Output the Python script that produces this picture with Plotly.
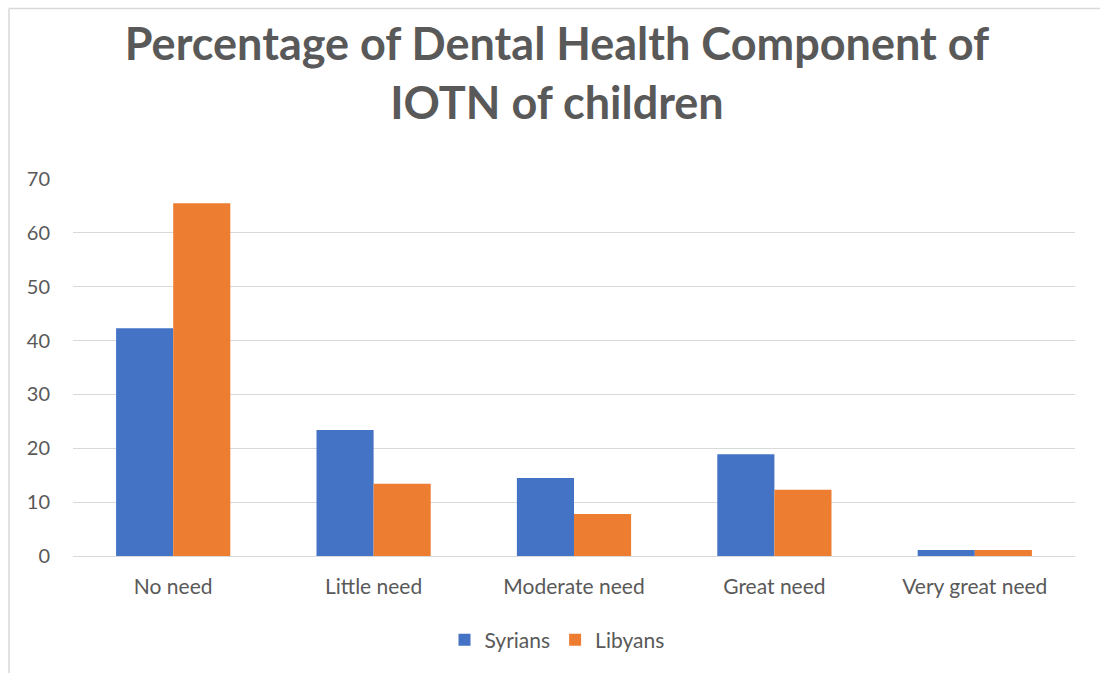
import plotly.graph_objects as go

categories = ["No need", "Little need", "Moderate need", "Great need", "Very great need"]
syrians = [42.3, 23.4, 14.5, 18.9, 1.1]
libyans = [65.5, 13.4, 7.8, 12.3, 1.1]
y_ticks = [0, 10, 20, 30, 40, 50, 60, 70]

FONT = "Lato"
GREY = "#595959"

fig = go.Figure()
fig.add_trace(go.Bar(name="Syrians", x=categories, y=syrians, marker_color="#4472C4",
                     marker_line_width=0))
fig.add_trace(go.Bar(name="Libyans", x=categories, y=libyans, marker_color="#ED7D31",
                     marker_line_width=0))

W, H = 1100, 673
L, R, T, B = 73, 1075, 179, 556

def px_to_paper_x(px):
    return (px - L) / (R - L)

def px_to_paper_y(py):
    return (B - py) / (B - T)

fig.update_layout(
    width=W, height=H,
    margin=dict(l=L, r=W - R, t=T, b=H - B),
    paper_bgcolor="white", plot_bgcolor="white",
    barmode="group", bargap=0.43, bargroupgap=0,
    font=dict(family=FONT, color=GREY, size=20),
    title=dict(
        text="<b>Percentage of Dental Health Component of<br>IOTN of children</b>",
        x=px_to_paper_x(557), xanchor="center", xref="paper",
        y=1 - 60 / H, yanchor="middle", yref="container",
        font=dict(family=FONT, size=45, color=GREY),
    ),
    xaxis=dict(showgrid=False, showline=False, ticks="", tickfont=dict(size=21, color=GREY),
               ticklabelstandoff=16),
    yaxis=dict(range=[0, 70], tickvals=y_ticks, showgrid=True, gridcolor="#d9d9d9",
               gridwidth=1.3, zeroline=True, zerolinecolor="#d9d9d9", zerolinewidth=1.3,
               ticks="", tickfont=dict(size=20, color=GREY), ticklabelstandoff=22),
    legend=dict(orientation="h", x=px_to_paper_x(557), xanchor="center", y=px_to_paper_y(640),
                yanchor="middle", font=dict(size=21, color=GREY), itemwidth=30,
                traceorder="normal"),
    showlegend=True,
    shapes=[
        dict(type="line", xref="paper", yref="paper",
             x0=px_to_paper_x(9), x1=px_to_paper_x(1110),
             y0=px_to_paper_y(8.5), y1=px_to_paper_y(8.5),
             line=dict(color="#d9d9d9", width=1.5)),
        dict(type="line", xref="paper", yref="paper",
             x0=px_to_paper_x(9), x1=px_to_paper_x(9),
             y0=px_to_paper_y(8.5), y1=px_to_paper_y(690),
             line=dict(color="#d9d9d9", width=1.5)),
    ],
)

fig.write_html("out.html")
